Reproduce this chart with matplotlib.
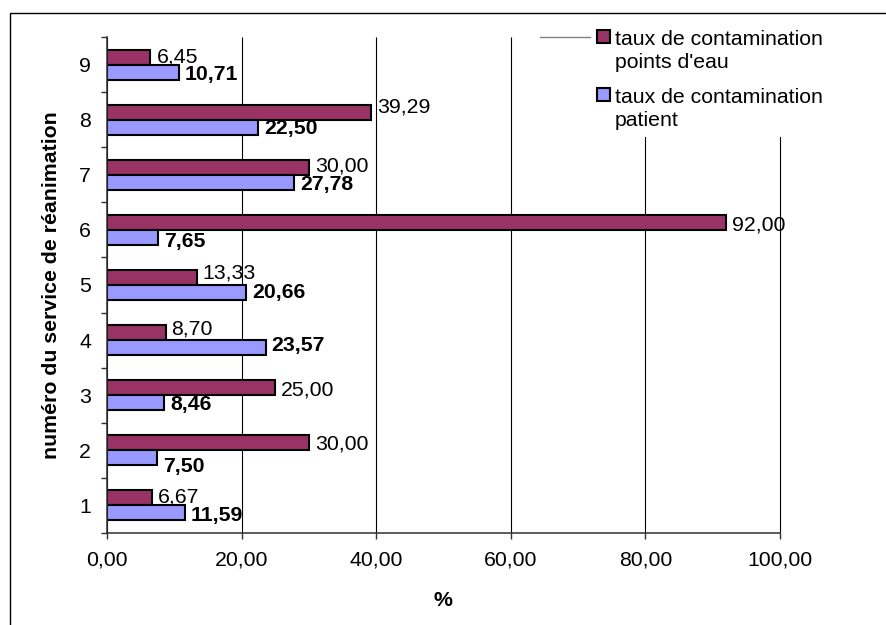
import matplotlib
matplotlib.use("Agg")
import matplotlib.pyplot as plt
from matplotlib.patches import Rectangle
from matplotlib.lines import Line2D

plt.rcParams['font.family'] = ['Liberation Sans', 'DejaVu Sans']

services = [1, 2, 3, 4, 5, 6, 7, 8, 9]
eau = [6.67, 30.00, 25.00, 8.70, 13.33, 92.00, 30.00, 39.29, 6.45]
patient = [11.59, 7.50, 8.46, 23.57, 20.66, 7.65, 27.78, 22.50, 10.71]
x_ticks = [0, 20, 40, 60, 80, 100]
legend_labels = ["taux de contamination\npoints d'eau",
                 "taux de contamination\npatient"]

# small vertical shifts (px, up is positive) for the value labels
eau_nudge = [3, 1, 0, 5.5, 7, 0, 3.5, 7, 2]
patient_nudge = [0, -7, 0, 4.5, 2, -2, 0, 1, 0]

W, H = 886, 625
DPI = 100
FS = 15.3
PT = 72.0 / DPI  # points per pixel
MAROON = '#993366'
LAVENDER = '#9999FF'


def fr(v):
    return f"{v:.2f}".replace('.', ',')


fig = plt.figure(figsize=(W / DPI, H / DPI), dpi=DPI)
fig.patch.set_facecolor('white')
ax = fig.add_axes([107 / W, 1 - 533 / H, 673 / W, 496 / H])

h = 0.272
ax.barh([s + h / 2 for s in services], eau, height=h, color=MAROON,
        edgecolor='black', linewidth=1.5, zorder=3)
ax.barh([s - h / 2 for s in services], patient, height=h, color=LAVENDER,
        edgecolor='black', linewidth=1.5, zorder=3)

# value labels, digits centred on the bar then nudged
half_cap = 0.358 * FS / PT
for s, v, n in zip(services, eau, eau_nudge):
    ax.annotate(fr(v), xy=(v, s + h / 2), xytext=(6 * PT, (n - half_cap) * PT),
                textcoords='offset points', va='baseline', ha='left',
                fontsize=FS, zorder=4)
for s, v, n in zip(services, patient, patient_nudge):
    ax.annotate(fr(v), xy=(v, s - h / 2), xytext=(6 * PT, (n - half_cap) * PT),
                textcoords='offset points', va='baseline', ha='left',
                fontsize=FS, fontweight='bold', zorder=4)

ax.set_xlim(0, 100)
ax.set_ylim(0.5, 9.5)
ax.vlines(x_ticks, 0.5, 9.5, colors='black', linewidth=0.8, zorder=1,
          clip_on=False)

ax.set_xticks(x_ticks)
ax.set_xticklabels([fr(t) for t in x_ticks])
ax.set_yticks(services)
ax.set_yticklabels([str(s) for s in services])
ax.set_yticks([s - 0.5 for s in services] + [9.5], minor=True)
ax.tick_params(axis='x', length=6 * PT, width=1, color='#303030',
               labelsize=FS, pad=8.6)
ax.tick_params(axis='y', which='major', length=0, labelsize=FS, pad=11.5)
ax.tick_params(axis='y', which='minor', length=6 * PT, width=1,
               color='#303030')

for side in ('top', 'right'):
    ax.spines[side].set_visible(False)
for side in ('left', 'bottom'):
    ax.spines[side].set_color('#303030')
    ax.spines[side].set_linewidth(1.1)
    ax.spines[side].set_zorder(5)

fig.text(443 / W, 1 - 601 / H, '%', ha='center', va='center',
         fontsize=FS, fontweight='bold')
fig.text(52 / W, 1 - 285 / H, 'numéro du service de réanimation',
         rotation=90, ha='center', va='center', fontsize=FS,
         fontweight='bold')

# legend block, drawn by hand so the key sits on the first text line
fig.add_artist(Rectangle((588 / W, 1 - 137 / H), (W - 588) / W, 117 / H,
                         transform=fig.transFigure, facecolor='white',
                         edgecolor='none', zorder=10))
fig.add_artist(Line2D([540 / W, 590 / W], [1 - 37 / H] * 2,
                      transform=fig.transFigure, color='#808080',
                      linewidth=1, zorder=11))
line_gap = 24
for color, label, top, base in zip([MAROON, LAVENDER], legend_labels,
                                   [30, 88], [44, 102]):
    fig.add_artist(Rectangle((597 / W, 1 - (top + 13) / H), 13 / W, 13 / H,
                             transform=fig.transFigure, facecolor=color,
                             edgecolor='black', linewidth=1.5, zorder=11))
    # multi-line baseline refers to the last line
    fig.text(615 / W, 1 - (base + line_gap) / H, label, ha='left',
             va='baseline', fontsize=FS, linespacing=1.25, zorder=12)

# outer chart frame, running off the right and bottom edges
fig.add_artist(Rectangle((10 / W, -0.1), 1.2, 0.1 + 1 - 13 / H,
                         transform=fig.transFigure, facecolor='none',
                         edgecolor='black', linewidth=1, zorder=20))

fig.savefig('out.png', dpi=DPI)
